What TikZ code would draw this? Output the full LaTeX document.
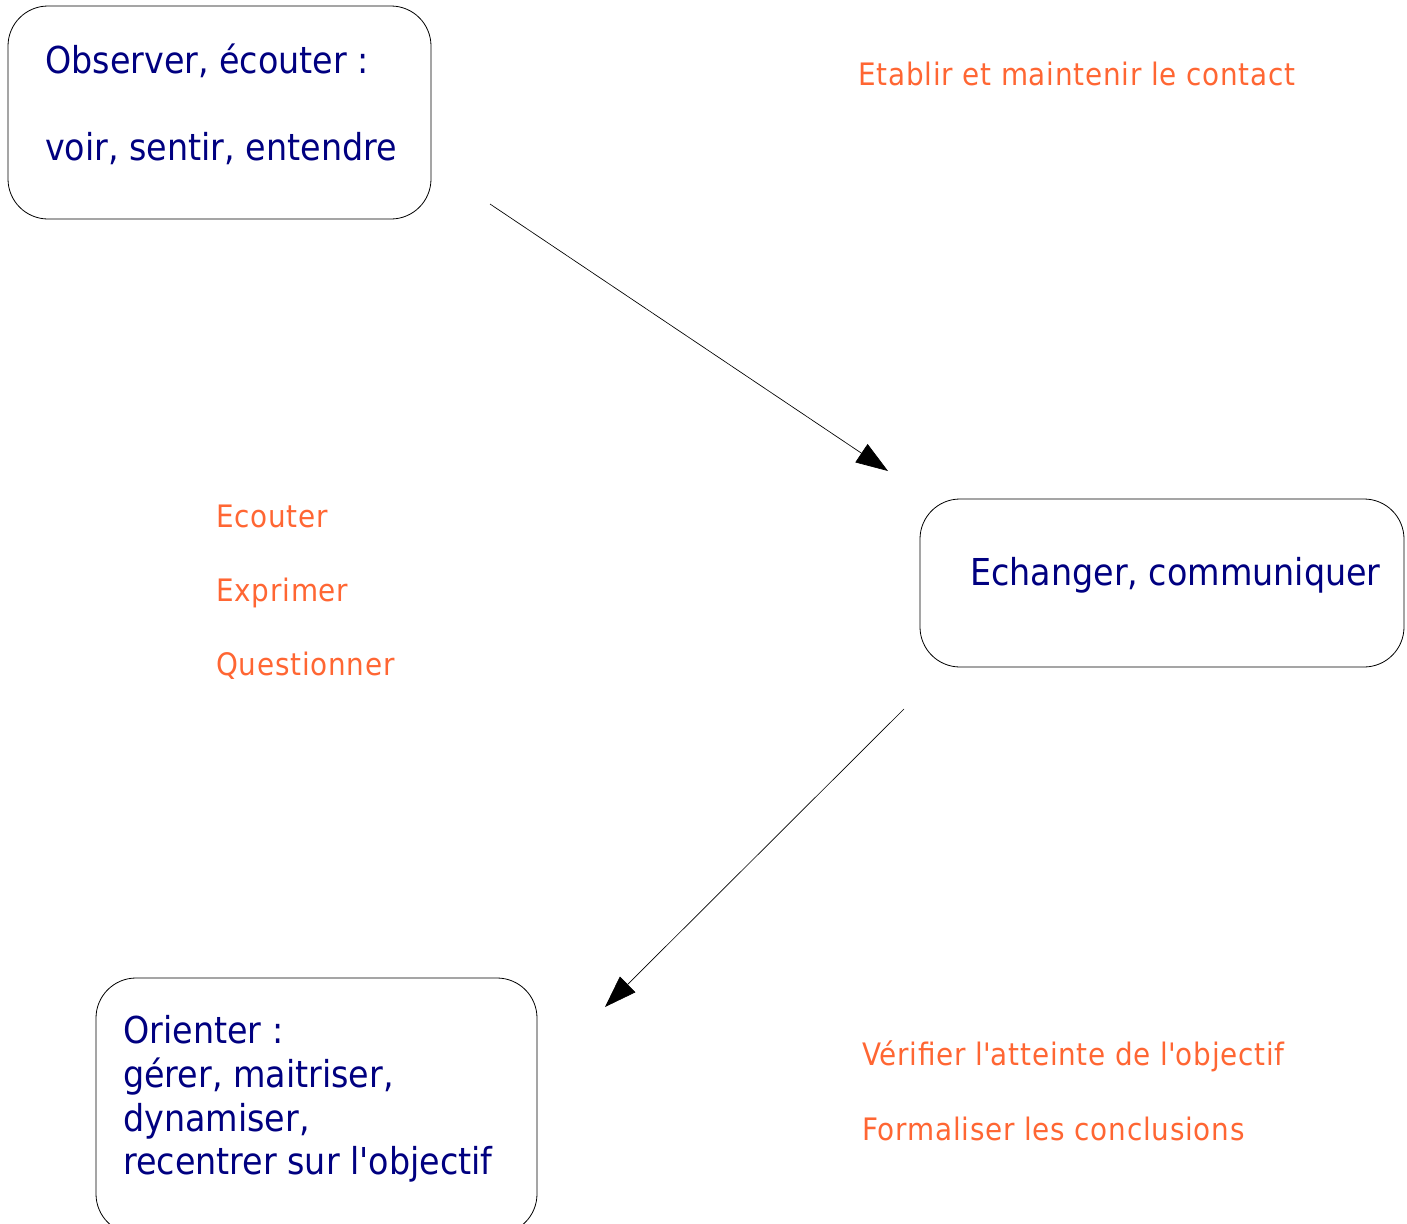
\documentclass[tikz,border=0pt]{standalone}
\usepackage{fontspec}
\setmainfont{DejaVu Sans Condensed}
\newfontfamily\notefont{DejaVu Sans Condensed}[LetterSpace=2.5]
\usetikzlibrary{arrows.meta}
\definecolor{bleu}{HTML}{000080}
\definecolor{orange}{HTML}{FF6633}
\tikzset{
  boite/.style={draw, rounded corners=30pt, inner sep=0pt, line width=0.6pt},
  titre/.style={anchor=base west, inner sep=0pt, text=bleu, font=\fontsize{27.8}{32}\selectfont},
  note/.style={anchor=base west, inner sep=0pt, text=orange, font=\notefont\fontsize{23.2}{26}\selectfont},
  fleche/.style={-{Triangle[length=24pt, width=16.5pt]}, line width=0.5pt}
}
\begin{document}
\begin{tikzpicture}[x=0.75pt, y=-0.75pt]
 \useasboundingbox (0,0) rectangle (1407,1224);
 % les trois boites
 \node [boite, minimum width=317.25pt, minimum height=159.75pt] (observer) at (219.5,112.5) {};
 \node [boite, minimum width=363pt, minimum height=126pt] (echanger) at (1162,583) {};
 \node [boite, minimum width=330.75pt, minimum height=192pt] (orienter) at (316.5,1106) {};
 
 \node [titre] (t1) at (45,73) {Observer, écouter :};
 \node [titre] (t2) at (45,160) {voir, sentir, entendre};
 \node [titre] (t3) at (970,585) {Echanger, communiquer};
 \node [titre] (t4) at (123,1043) {Orienter :};
 \node [titre] (t5) at (123,1087) {gérer, maitriser,};
 \node [titre] (t6) at (123,1131) {dynamiser,};
 \node [titre] (t7) at (123,1174) {recentrer sur l\textquotesingle objectif};
 
 \node [note] (n1) at (858,85) {Etablir et maintenir le contact};
 \node [note] (n2) at (216,527) {Ecouter};
 \node [note] (n3) at (216,601) {Exprimer};
 \node [note] (n4) at (216,675) {Questionner};
 \node [note] (n5) at (862,1065) {Vérifier l\textquotesingle atteinte de l\textquotesingle objectif};
 \node [note] (n6) at (862,1140) {Formaliser les conclusions};
 
 % fleches
 \coordinate (a1) at (490,204);
 \coordinate (b1) at (888,471);
 \coordinate (a2) at (904,709);
 \coordinate (b2) at (605,1007);
 \draw [fleche] (a1) -- (b1);
 \draw [fleche] (a2) -- (b2);
\end{tikzpicture}
\end{document}
